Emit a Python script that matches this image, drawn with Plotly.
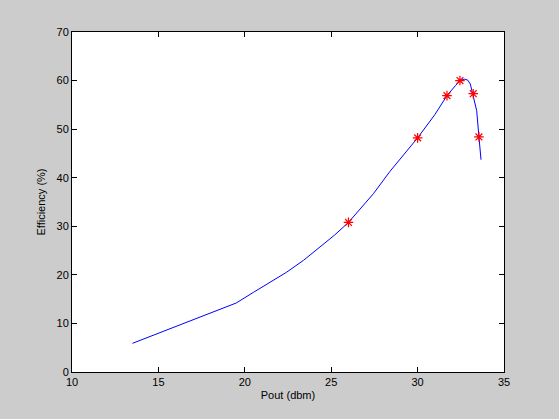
import plotly.graph_objects as go

# Line (simulated efficiency curve)
line_pout = [13.5, 19.5, 20.5, 22.4, 23.4, 24.35, 25.2, 26.0, 26.7, 27.44, 28.4, 29.2, 30.0, 31.0, 31.7, 32.2, 32.45, 32.7, 32.9, 33.05, 33.2, 33.42, 33.55, 33.67]
line_eff = [5.9, 14.2, 16.4, 20.5, 23.0, 25.7, 28.2, 30.8, 33.6, 36.7, 41.3, 44.8, 48.2, 53.0, 56.9, 59.0, 60.0, 60.3, 60.1, 59.3, 57.3, 53.8, 48.4, 43.7]

# Measured points
meas_pout = [26.0, 30.0, 31.7, 32.45, 33.22, 33.55]
meas_eff = [30.8, 48.2, 56.9, 60.0, 57.3, 48.4]

x_ticks = [10, 15, 20, 25, 30, 35]
y_ticks = [0, 10, 20, 30, 40, 50, 60, 70]

fig = go.Figure()
fig.add_trace(go.Scatter(x=line_pout, y=line_eff, mode="lines",
                         line=dict(color="#0000ff", width=1),
                         showlegend=False))
fig.add_trace(go.Scatter(x=meas_pout, y=meas_eff, mode="markers",
                         marker=dict(symbol="asterisk", size=8, color="#ff0000",
                                     line=dict(color="#ff0000", width=1.2)),
                         showlegend=False))

font = dict(family="Liberation Sans, Arial", size=11, color="black")
axis_common = dict(showgrid=False, zeroline=False, showline=True, linecolor="black",
                   linewidth=1, ticks="inside", ticklen=5, tickcolor="black",
                   mirror="allticks", tickfont=font)

fig.update_xaxes(range=[10, 35], tickvals=x_ticks, ticktext=[str(v) for v in x_ticks],
                 title=dict(text="Pout (dbm)", font=font, standoff=4),
                 **axis_common)
fig.update_yaxes(range=[0, 70], tickvals=y_ticks, ticktext=[str(v) for v in y_ticks],
                 title=dict(text="Efficiency (%)", font=font, standoff=8),
                 **axis_common)

fig.update_layout(width=559, height=419, paper_bgcolor="#cccccc", plot_bgcolor="white",
                  margin=dict(l=72, r=55, t=32, b=47), autosize=False)

fig.write_html("out.html")
